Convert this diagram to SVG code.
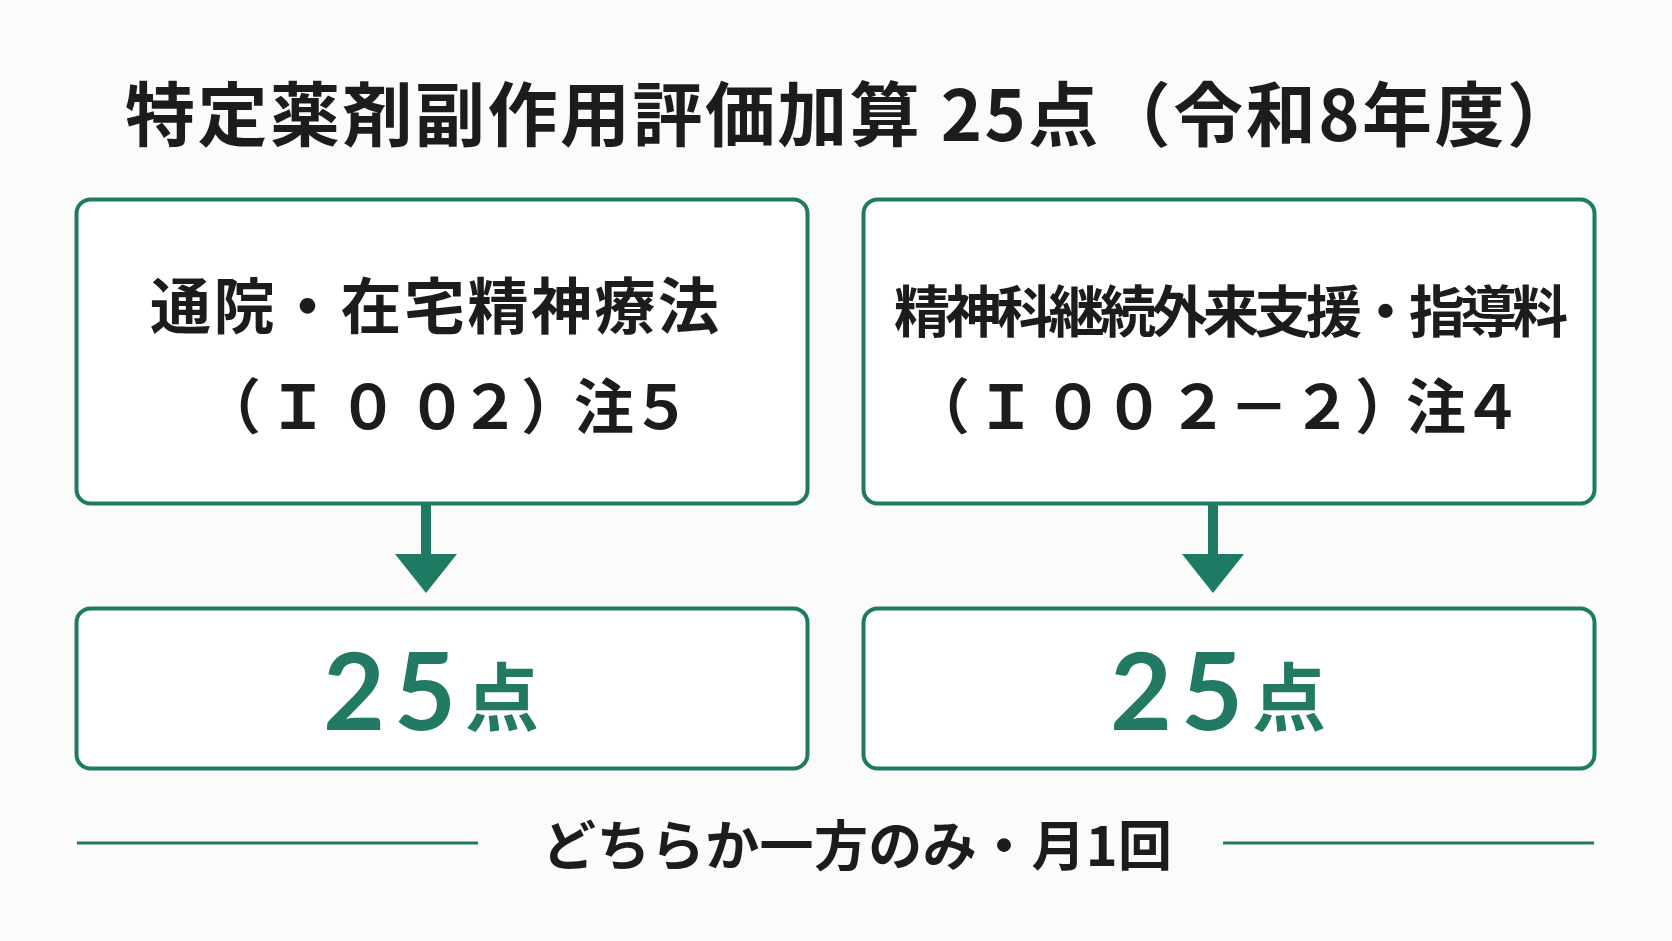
<svg xmlns="http://www.w3.org/2000/svg" width="1672" height="941" viewBox="0 0 1672 941">
<style>
.bg{fill:#fbfbfa}
.box{fill:#ffffff;stroke:#1e7a62;stroke-width:4}
.jp{font-family:"Noto Sans CJK JP","Noto Sans CJK SC",sans-serif;font-weight:700;fill:#1c1c1c}
.pt{font-family:Lato,"Noto Sans",sans-serif;font-weight:700;fill:#237a64}
.ptk{font-family:"Noto Sans CJK JP",sans-serif;font-weight:700;fill:#237a64}
.conn line{stroke:#1e7a62}
.head{fill:#1e7a62}
</style>
<rect class="bg" x="0" y="0" width="1672" height="941"/>
<g id="title">
<text class="jp" x="125" y="141" font-size="70" textLength="1452" lengthAdjust="spacing">特定薬剤副作用評価加算 25点（令和8年度）</text>
</g>
<g id="node-left">
<rect class="box" x="76.5" y="199.5" width="731" height="304" rx="14"/>
<text class="jp" x="150" y="329" font-size="61" textLength="569" lengthAdjust="spacing">通院・在宅精神療法</text>
<text class="jp" y="429" font-size="60" x="201 268 338 407 460 521 574 631">（Ｉ００２）注５</text>
</g>
<g id="node-right">
<rect class="box" x="863.5" y="199.5" width="731" height="304" rx="14"/>
<text class="jp" x="894" y="332" font-size="56" textLength="674" lengthAdjust="spacing">精神科継続外来支援・指導料</text>
<text class="jp" y="429" font-size="60" x="910 976 1043 1104 1168 1229 1292 1355 1406 1462">（Ｉ００２－２）注４</text>
</g>
<g id="result-left">
<rect class="box" x="76.5" y="608.5" width="731" height="160" rx="14"/>
<text class="pt" y="730" font-size="107" x="323 394">25</text>
<text class="ptk" x="465" y="725" font-size="74">点</text>
</g>
<g id="result-right">
<rect class="box" x="863.5" y="608.5" width="731" height="160" rx="14"/>
<text class="pt" y="730" font-size="107" x="1110 1181">25</text>
<text class="ptk" x="1252" y="725" font-size="74">点</text>
</g>
<g id="connectors" class="conn">
<line x1="426" y1="505" x2="426" y2="558" stroke-width="10"/>
<polygon class="head" points="395,554 457,554 426,593"/>
<line x1="1213" y1="505" x2="1213" y2="558" stroke-width="10"/>
<polygon class="head" points="1182,554 1244,554 1213,593"/>
</g>
<g id="footer">
<line x1="77" y1="843" x2="478" y2="843" stroke="#1e7a62" stroke-width="3"/>
<line x1="1223" y1="843" x2="1594" y2="843" stroke="#1e7a62" stroke-width="3"/>
<text class="jp" x="542" y="866" font-size="54" textLength="630" lengthAdjust="spacing">どちらか一方のみ・月1回</text>
</g>
</svg>
